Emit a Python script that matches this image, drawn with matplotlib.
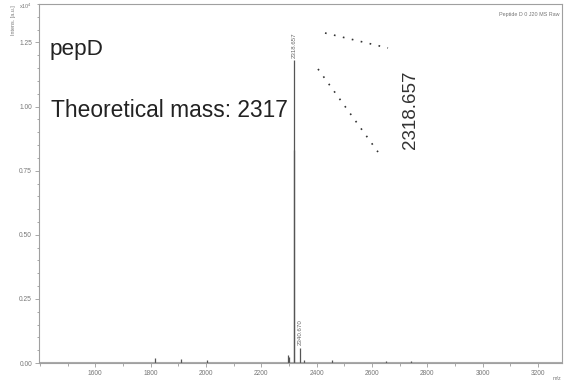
import matplotlib
matplotlib.use("Agg")
import matplotlib.pyplot as plt
from matplotlib.ticker import MultipleLocator, FormatStrFormatter

# ---- data ----
peak_mz = [1817, 1911, 2005, 2298, 2302, 2318.657, 2319.66, 2340.670, 2356, 2457, 2650, 2740]
peak_int = [0.020, 0.015, 0.010, 0.030, 0.022, 1.18, 0.83, 0.060, 0.010, 0.012, 0.006, 0.006]
label_mz = [2318.657, 2340.670]
label_int = [1.18, 0.060]
label_txt = ["2318.657", "2340.670"]
x_ticks = [1600, 1800, 2000, 2200, 2400, 2600, 2800, 3000, 3200]
y_ticks = [0.00, 0.25, 0.50, 0.75, 1.00, 1.25]
xlim = (1397, 3287)
ylim = (0.0, 1.40)
title_txt = "pepD"
mass_txt = "Theoretical mass: 2317"
big_label = "2318.657"
corner_txt = "Peptide D 0 J20 MS Raw"

plt.rcParams['font.family'] = ['Liberation Sans', 'DejaVu Sans']

fig = plt.figure(figsize=(5.65, 3.87), dpi=100)
ax = fig.add_axes([39/565, 24/387, (562-39)/565, (383-24)/387])

grey = "#9a9a9a"
# baseline
ax.plot([xlim[0], xlim[1]], [0.004, 0.004], color="#aaaaaa", lw=0.8, zorder=1)
# peaks
ax.vlines(peak_mz, 0, peak_int, color="#555555", lw=0.9, zorder=2)

for m, h, t in zip(label_mz, label_int, label_txt):
    ax.text(m, h + 0.01, t, rotation=90, ha="center", va="bottom",
            fontsize=4.4, color="#666666")

ax.set_xlim(*xlim)
ax.set_ylim(*ylim)
ax.set_xticks(x_ticks)
ax.set_yticks(y_ticks)
ax.xaxis.set_minor_locator(MultipleLocator(100))
ax.yaxis.set_minor_locator(MultipleLocator(0.05))
ax.yaxis.set_major_formatter(FormatStrFormatter("%.2f"))
ax.tick_params(which="both", direction="out", colors=grey, labelcolor="#777777",
               labelsize=4.8, width=0.6)
ax.tick_params(which="major", length=3, pad=2)
ax.tick_params(which="minor", length=1.8)
for s in ax.spines.values():
    s.set_color("#a0a0a0")
    s.set_linewidth(0.8)

# axis annotations
fig.text(13/565, 1 - 20/387, "Intens. [a.u.]", rotation=90, ha="center", va="center",
         fontsize=3.9, color="#777777")
fig.text(25/565, 1 - 6/387, r"x10$^4$", ha="center", va="center",
         fontsize=3.9, color="#777777")
fig.text(557/565, 1 - 378/387, "m/z", ha="center", va="center",
         fontsize=3.9, color="#777777")
ax.text(0.995, 0.97, corner_txt, transform=ax.transAxes, ha="right", va="center",
        fontsize=3.9, color="#777777")

# big annotations
fig.text(50/565, 1 - 50/387, title_txt, ha="left", va="center", fontsize=16.2, color="#222222")
fig.text(51/565, 1 - 117/387, mass_txt, ha="left", va="baseline", fontsize=16.4, color="#222222")
fig.text(410/565, 1 - 110/387, big_label, rotation=90, ha="center", va="center",
         fontsize=13.5, color="#333333")

# dotted pointer lines (figure-fraction coordinates)
fig.add_artist(plt.Line2D([325/565, 388/565], [1 - 33/387, 1 - 48/387],
                          transform=fig.transFigure, color="#333333",
                          lw=1.2, linestyle=(0, (1, 4.5))))
fig.add_artist(plt.Line2D([318/565, 378/565], [1 - 69/387, 1 - 152/387],
                          transform=fig.transFigure, color="#333333",
                          lw=1.2, linestyle=(0, (1, 4.5))))

fig.savefig("out.png", dpi=100)
